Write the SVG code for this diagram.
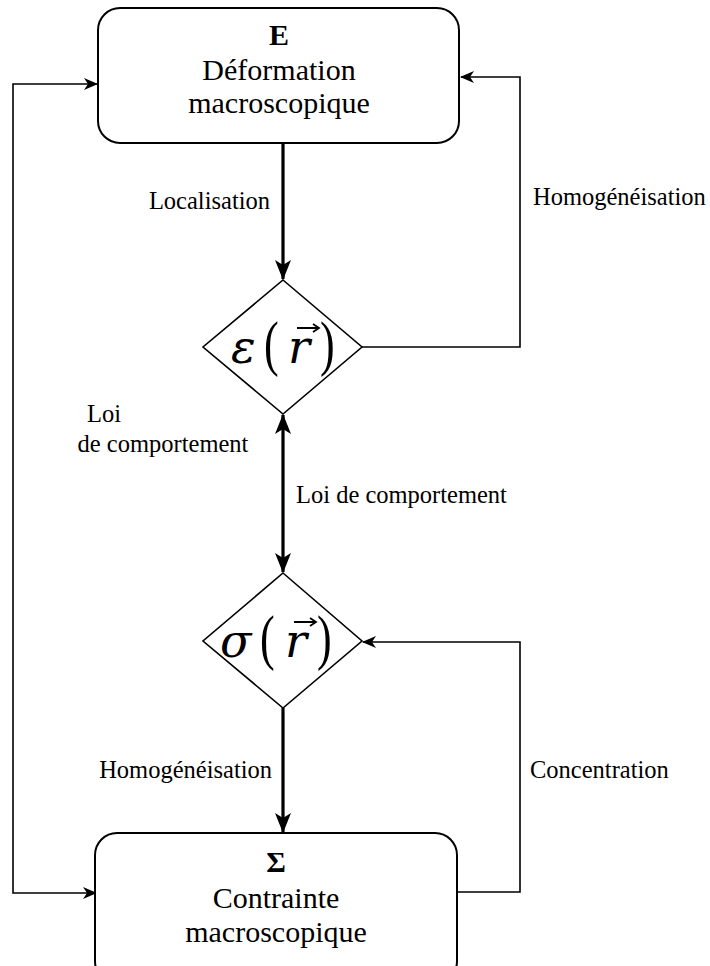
<svg xmlns="http://www.w3.org/2000/svg" width="710" height="966" viewBox="0 0 710 966">
<defs>
<style>
.box{fill:#fff;stroke:#000;stroke-width:2}
.dia{fill:#fff;stroke:#000;stroke-width:1.6}
.thick{fill:none;stroke:#000;stroke-width:3.2}
.thin{fill:none;stroke:#000;stroke-width:1.6}
.vec{fill:none;stroke:#000;stroke-width:1.8}
.t{font-family:"Liberation Serif","Times New Roman",serif;fill:#000}
.lbl{font-size:24.5px}
.big{font-size:30px}
.m{font-family:"DejaVu Serif","Liberation Serif",serif;font-style:italic;fill:#000}
</style>
<marker id="ab" viewBox="0 0 20 20" refX="19" refY="10" markerWidth="20" markerHeight="20" markerUnits="userSpaceOnUse" orient="auto-start-reverse">
<path d="M0,2 L20,10 L0,18 L5,10 Z" fill="#000"/>
</marker>
<marker id="as" viewBox="0 0 14 14" refX="13" refY="7" markerWidth="14" markerHeight="14" markerUnits="userSpaceOnUse" orient="auto-start-reverse">
<path d="M0,1 L14,7 L0,13 L4,7 Z" fill="#000"/>
</marker>
</defs>
<g id="connectors">
<path class="thick" d="M283,143 V279" marker-end="url(#ab)"/>
<path class="thick" d="M283,415 V572" marker-start="url(#ab)" marker-end="url(#ab)"/>
<path class="thick" d="M283,708 V832" marker-end="url(#ab)"/>
<path class="thin" d="M96,893 H13 V84 H97" marker-start="url(#as)" marker-end="url(#as)"/>
<path class="thin" d="M362,347 H520 V77 H461" marker-end="url(#as)"/>
<path class="thin" d="M457,892 H520 V642 H363" marker-end="url(#as)"/>
<text class="t lbl" x="270" y="209" text-anchor="end">Localisation</text>
<text class="t lbl" x="533" y="205">Homogénéisation</text>
<text class="t lbl" x="104" y="422" text-anchor="middle">Loi</text>
<text class="t lbl" x="163" y="452" text-anchor="middle">de comportement</text>
<text class="t lbl" x="296" y="503">Loi de comportement</text>
<text class="t lbl" x="272" y="778" text-anchor="end">Homogénéisation</text>
<text class="t lbl" x="530" y="778">Concentration</text>
</g>
<g id="node-E">
<rect class="box" x="98" y="8" width="361" height="135" rx="22"/>
<text class="t big" x="279" y="45" text-anchor="middle" font-weight="bold">E</text>
<text class="t big" x="279" y="80" text-anchor="middle">Déformation</text>
<text class="t big" x="279" y="113" text-anchor="middle">macroscopique</text>
</g>
<g id="node-eps">
<polygon class="dia" points="283,280 362,347 283,414 203,347"/>
<text class="m" x="231" y="363" font-size="46">ε</text>
<text class="t" x="0" y="0" font-size="44" transform="translate(264,364) scale(1,1.4)">(</text>
<text class="m" x="288" y="363" font-size="46">r</text>
<path class="vec" d="M297,328 H318 M313,324 L319,328 L313,332"/>
<text class="t" x="0" y="0" font-size="44" transform="translate(320,364) scale(1,1.4)">)</text>
</g>
<g id="node-sig">
<polygon class="dia" points="283,573 362,641 283,708 203,641"/>
<text class="m" x="220" y="657" font-size="46">σ</text>
<text class="t" x="0" y="0" font-size="44" transform="translate(260,658) scale(1,1.4)">(</text>
<text class="m" x="285" y="657" font-size="46">r</text>
<path class="vec" d="M294,622 H315 M310,618 L316,622 L310,626"/>
<text class="t" x="0" y="0" font-size="44" transform="translate(317,658) scale(1,1.4)">)</text>
</g>
<g id="node-S">
<rect class="box" x="95" y="833" width="362" height="150" rx="22"/>
<text class="t big" x="276" y="872" text-anchor="middle" font-weight="bold">Σ</text>
<text class="t big" x="276" y="908" text-anchor="middle">Contrainte</text>
<text class="t big" x="276" y="942" text-anchor="middle">macroscopique</text>
</g>
</svg>
